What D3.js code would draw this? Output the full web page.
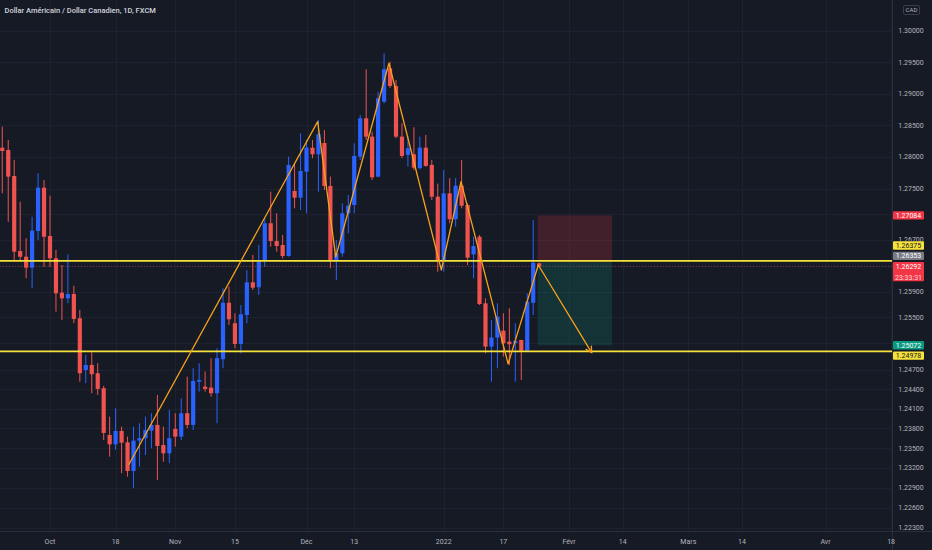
<!DOCTYPE html>
<html><head><meta charset="utf-8">
<script src="https://cdn.jsdelivr.net/npm/d3@7"></script>
<style>html,body{margin:0;padding:0;background:#161a25;overflow:hidden}</style>
</head><body><svg id="c" width="932" height="550"></svg>
<script>
// ---------------- DATA ----------------
const title = "Dollar Américain / Dollar Canadien, 1D, FXCM";
const currency = "CAD";
const firstBar = -8; // bar index of first candle (0 = 1 Oct 2021)
const open = [1.28145,1.28109,1.27700,1.26528,1.26440,1.26270,1.26840,1.27517,1.26762,1.26415,
1.25882,1.25795,1.25862,1.25487,1.24694,1.24770,1.24643,1.24414,1.23701,1.23559,
1.23762,1.23590,1.23155,1.23615,1.23652,1.23767,1.23854,1.23549,1.23423,1.23793,
1.23676,1.24032,1.23854,1.24514,1.24438,1.24423,1.24337,1.24858,1.25727,1.25411,
1.25092,1.25538,1.26043,1.25966,1.26389,1.26961,1.26684,1.26622,1.26451,1.27465,
1.27360,1.27768,1.28145,1.28041,1.28219,1.27544,1.26374,1.26493,1.27117,1.27246,
1.28004,1.28609,1.28319,1.27690,1.28871,1.29401,1.29120,1.28319,1.28031,1.28041,
1.27822,1.28145,1.27874,1.27376,1.26389,1.27428,1.27023,1.27548,1.27246,1.26477,
1.26751,1.25718,1.25051,1.25190,1.25297,1.25128,1.25103,1.25154,1.24989,1.25727,1.26338];
const high = [1.28477,1.28267,1.27952,1.27297,1.26727,1.27063,1.27743,1.27638,1.27392,1.26544,
1.26311,1.26477,1.25991,1.25615,1.24923,1.24965,1.24796,1.24449,1.23980,1.24108,
1.23828,1.23676,1.23828,1.23879,1.23980,1.24032,1.24311,1.23828,1.24082,1.24032,
1.24260,1.24591,1.24720,1.24796,1.24668,1.24873,1.25026,1.25950,1.25975,1.25564,
1.25692,1.26234,1.26467,1.26624,1.27039,1.27455,1.27117,1.26778,1.28004,1.27900,
1.28373,1.28267,1.28267,1.28582,1.28425,1.27690,1.26700,1.27273,1.27403,1.28214,
1.28661,1.29386,1.28398,1.29030,1.29640,1.29506,1.29216,1.28530,1.28319,1.28467,
1.28319,1.28346,1.27952,1.27580,1.27795,1.27665,1.27665,1.27952,1.27273,1.26751,
1.26778,1.25795,1.25461,1.25718,1.25564,1.25641,1.25411,1.25154,1.25873,1.27012,1.26343];
const low = [1.27429,1.26985,1.26363,1.26363,1.26105,1.25951,1.26700,1.26285,1.26285,1.25589,
1.25461,1.25718,1.25411,1.24514,1.24490,1.24337,1.24311,1.23625,1.23372,1.23473,
1.23121,1.23069,1.22894,1.23221,1.23397,1.23499,1.23019,1.23296,1.23272,1.23524,
1.23625,1.23803,1.23777,1.24362,1.24362,1.24285,1.23879,1.24720,1.25385,1.25026,
1.24949,1.25411,1.25924,1.25847,1.26285,1.26595,1.26518,1.26415,1.26440,1.27195,
1.27168,1.27117,1.27979,1.27455,1.27481,1.26260,1.26079,1.26440,1.26805,1.27117,
1.27952,1.28267,1.27638,1.27680,1.28846,1.29089,1.28293,1.27979,1.27847,1.27795,
1.27806,1.27847,1.27324,1.26208,1.26208,1.26961,1.26907,1.27195,1.26311,1.26105,
1.25692,1.24949,1.24514,1.24720,1.24897,1.24770,1.24514,1.24540,1.24974,1.25538,1.26281];
const close = [1.28093,1.27690,1.26518,1.26440,1.26270,1.26845,1.27517,1.26751,1.26415,1.25873,
1.25795,1.25862,1.25477,1.24643,1.24770,1.24628,1.24403,1.23732,1.23559,1.23762,
1.23584,1.23155,1.23615,1.23652,1.23777,1.23854,1.23534,1.23423,1.23652,1.23676,
1.24032,1.23854,1.24525,1.24540,1.24403,1.24337,1.24873,1.25727,1.25472,1.25092,
1.25549,1.26043,1.25960,1.26363,1.26961,1.26684,1.26606,1.26451,1.27873,1.27360,
1.27779,1.28145,1.28041,1.28357,1.27544,1.26389,1.26493,1.27117,1.27235,1.28015,
1.28609,1.28319,1.27680,1.28925,1.29386,1.29120,1.28319,1.28015,1.28136,1.27831,
1.28145,1.27858,1.27376,1.26389,1.27428,1.27023,1.27548,1.27235,1.26425,1.26606,
1.25707,1.25051,1.25190,1.25512,1.25103,1.25087,1.25138,1.24989,1.25743,1.26347,1.26292];

const timeTickLabels = ["Oct","18","Nov","15","Déc","13","2022","17","Févr","14","Mars","14","Avr","18"];
const timeTickBars   = [0,11,21,31,43,51,66,76,87,96,107,116,130,141];
const priceTicks = [1.300,1.295,1.290,1.285,1.280,1.275,1.271,1.267,1.263,1.259,1.255,1.251,1.247,1.244,1.241,1.238,1.235,1.232,1.229,1.226,1.223];
const levels = [1.26375, 1.24978];                 // yellow horizontal lines
const zigzagBars   = [13.2, 44.87, 47.9, 56.82, 65.6, 68.9, 76.8, 81.85, 90.8];
const zigzagPrices = [1.2325, 1.28556, 1.26436, 1.29481, 1.26234, 1.27611, 1.24786, 1.26311, 1.24959];
const entryPrice = 1.26353, stopPrice = 1.27084, targetPrice = 1.25072;
const positionBars = [81.75, 94.2];
const lastPrice = 1.26292, countdown = "23:33:31";

// ---------------- CHART ----------------
const W = 932, H = 550, plotR = 892.5, plotB = 531.5;
const svg = d3.select("#c");
const FONT = "Roboto, 'Liberation Sans', sans-serif";
svg.append("rect").attr("width",W).attr("height",H).attr("fill","#161a25");

const x = d3.scaleLinear().domain([0,116]).range([50,742]);
const y = d3.scaleLog().domain([1.223,1.30]).range([527.7,30.7]);

const defs = svg.append("defs");
defs.append("clipPath").attr("id","plot")
  .append("rect").attr("x",0).attr("y",0).attr("width",plotR).attr("height",plotB);
const plot = svg.append("g").attr("clip-path","url(#plot)");

// grid
plot.append("g").selectAll("line").data(priceTicks).join("line")
  .attr("x1",0).attr("x2",plotR).attr("y1",d=>Math.round(y(d))+0.5).attr("y2",d=>Math.round(y(d))+0.5)
  .attr("stroke","#1e2230").attr("stroke-width",1);
plot.append("g").selectAll("line").data(timeTickBars).join("line")
  .attr("x1",d=>Math.round(x(d))+0.5).attr("x2",d=>Math.round(x(d))+0.5).attr("y1",0).attr("y2",plotB)
  .attr("stroke","#1e2230").attr("stroke-width",1);

// position tool
plot.append("rect").attr("x",x(positionBars[0])).attr("width",x(positionBars[1])-x(positionBars[0]))
  .attr("y",y(stopPrice)).attr("height",y(entryPrice)-y(stopPrice)).attr("fill","rgba(242,54,69,0.2)");
plot.append("rect").attr("x",x(positionBars[0])).attr("width",x(positionBars[1])-x(positionBars[0]))
  .attr("y",y(entryPrice)).attr("height",y(targetPrice)-y(entryPrice)).attr("fill","rgba(8,153,129,0.2)");

// candles
const candles = open.map((o,i)=>({bar:firstBar+i,o,h:high[i],l:low[i],c:close[i]}));
const UP="#2962ff", DN="#ef5350", bw=4.2;
const cg = plot.append("g").selectAll("g").data(candles).join("g");
cg.append("line").attr("x1",d=>x(d.bar)).attr("x2",d=>x(d.bar))
  .attr("y1",d=>y(d.h)).attr("y2",d=>y(d.l)).attr("stroke",d=>d.c>=d.o?UP:DN).attr("stroke-width",1);
cg.append("rect").attr("x",d=>x(d.bar)-bw/2).attr("width",bw)
  .attr("y",d=>y(Math.max(d.o,d.c))).attr("height",d=>Math.max(1,Math.abs(y(d.o)-y(d.c))))
  .attr("fill",d=>d.c>=d.o?UP:DN);

// last price line
plot.append("line").attr("x1",0).attr("x2",plotR).attr("y1",y(lastPrice)).attr("y2",y(lastPrice))
  .attr("stroke","rgba(239,83,80,0.45)").attr("stroke-width",1).attr("stroke-dasharray","1,2");

// yellow levels
plot.append("g").selectAll("line").data(levels).join("line")
  .attr("x1",0).attr("x2",plotR).attr("y1",d=>y(d)).attr("y2",d=>y(d))
  .attr("stroke","#f5e23b").attr("stroke-width",1.7);

// zigzag
const zz = zigzagBars.map((b,i)=>[x(b),y(zigzagPrices[i])]);
plot.append("path").attr("d",d3.line()(zz)).attr("fill","none")
  .attr("stroke","#f7a21b").attr("stroke-width",1.3).attr("stroke-linejoin","round");
{
  const n=zz.length, p1=zz[n-2], p2=zz[n-1];
  const ang=Math.atan2(p2[1]-p1[1],p2[0]-p1[0]), L=7, a=0.5;
  const pts=[[p2[0]-L*Math.cos(ang-a),p2[1]-L*Math.sin(ang-a)],p2,[p2[0]-L*Math.cos(ang+a),p2[1]-L*Math.sin(ang+a)]];
  plot.append("path").attr("d",d3.line()(pts)).attr("fill","none").attr("stroke","#f7a21b").attr("stroke-width",1.3);
}

// separators
svg.append("line").attr("x1",plotR).attr("x2",plotR).attr("y1",0).attr("y2",H).attr("stroke","#2a2e39");
svg.append("line").attr("x1",0).attr("x2",W).attr("y1",plotB).attr("y2",plotB).attr("stroke","#2a2e39");

// title
svg.append("text").attr("x",4.5).attr("y",13).text(title)
  .attr("font-family",FONT).attr("font-size",7.5).attr("font-weight",500).attr("fill","#d1d4dc");

// price marker layout (simple collision resolution)
const boxH=8.4, gap=2;
const markers = [
  {v:lastPrice, bg:"#f23645", fg:"#ffffff", lines:[lastPrice.toFixed(5), countdown]},
  {v:stopPrice, bg:"#f23645", fg:"#ffffff", lines:[stopPrice.toFixed(5)]},
  {v:targetPrice, bg:"#089981", fg:"#ffffff", lines:[targetPrice.toFixed(5)]},
  {v:entryPrice, bg:"#787b86", fg:"#ffffff", lines:[entryPrice.toFixed(5)]},
  {v:levels[0], bg:"#f5e23b", fg:"#131722", lines:[levels[0].toFixed(5)]},
  {v:levels[1], bg:"#f5e23b", fg:"#131722", lines:[levels[1].toFixed(5)]}
];
const placed=[];
markers.forEach(m=>{
  const h = boxH*m.lines.length + (m.lines.length-1)*2.5;
  let top = y(m.v) - boxH/2;
  let moved=true, guard=0;
  while(moved && guard++<20){
    moved=false;
    for(const p of placed){
      if(top < p.top+p.h && top+h > p.top){
        top = (m.v > p.v) ? p.top - gap - h : p.top + p.h + gap;
        moved=true;
      }
    }
  }
  m.top=top; m.h=h; placed.push(m);
});

// price axis tick labels: hide those whose centre is covered by a marker; clip partly covered ones
const axX = 911;
const visibleTicks = priceTicks.filter(t=>{
  const c=y(t); return !markers.some(m=>c>=m.top-1 && c<=m.top+m.h+1);
});
visibleTicks.forEach((t,i)=>{
  const c=y(t);
  const cover = markers.find(m=>c-3.6<m.top+m.h && c+3.6>m.top);
  const g = svg.append("g");
  if(cover){
    const id="tc"+i;
    const r = defs.append("clipPath").attr("id",id).append("rect").attr("x",893).attr("width",39);
    if(cover.top>c){ r.attr("y",c-6).attr("height",cover.top-(c-6)); }
    else { r.attr("y",cover.top+cover.h).attr("height",(c+6)-(cover.top+cover.h)); }
    g.attr("clip-path","url(#"+id+")");
  }
  g.append("text").attr("x",axX).attr("y",c).attr("dy","0.35em").attr("text-anchor","middle")
    .attr("font-family",FONT).attr("font-size",7).attr("fill","#b2b5be").text(t.toFixed(5));
});

// currency box
svg.append("rect").attr("x",903.5).attr("y",5.5).attr("width",16).attr("height",9).attr("rx",1.5)
  .attr("fill","#161a25").attr("stroke","#434651").attr("stroke-width",0.8);
svg.append("text").attr("x",911.5).attr("y",10).attr("dy","0.35em").attr("text-anchor","middle")
  .attr("font-family",FONT).attr("font-size",6).attr("fill","#b2b5be").text(currency);

// time axis labels
svg.append("g").selectAll("text").data(timeTickBars).join("text")
  .attr("x",d=>x(d)).attr("y",541.5).attr("dy","0.35em").attr("text-anchor","middle")
  .attr("font-family",FONT).attr("font-size",7).attr("fill","#b2b5be").text((d,i)=>timeTickLabels[i]);

// marker boxes
const mg = svg.append("g").selectAll("g").data(markers).join("g");
mg.append("rect").attr("x",893).attr("width",31).attr("y",d=>d.top).attr("height",d=>d.h).attr("rx",1).attr("fill",d=>d.bg);
mg.each(function(d){
  d.lines.forEach((t,i)=>{
    d3.select(this).append("text").attr("x",908.5).attr("y",d.top+boxH/2+i*(boxH+2.5)).attr("dy","0.35em")
      .attr("text-anchor","middle").attr("font-family",FONT).attr("font-size",7)
      .attr("fill",i===0?d.fg:"rgba(255,255,255,0.8)").text(t);
  });
});
</script></body></html>
